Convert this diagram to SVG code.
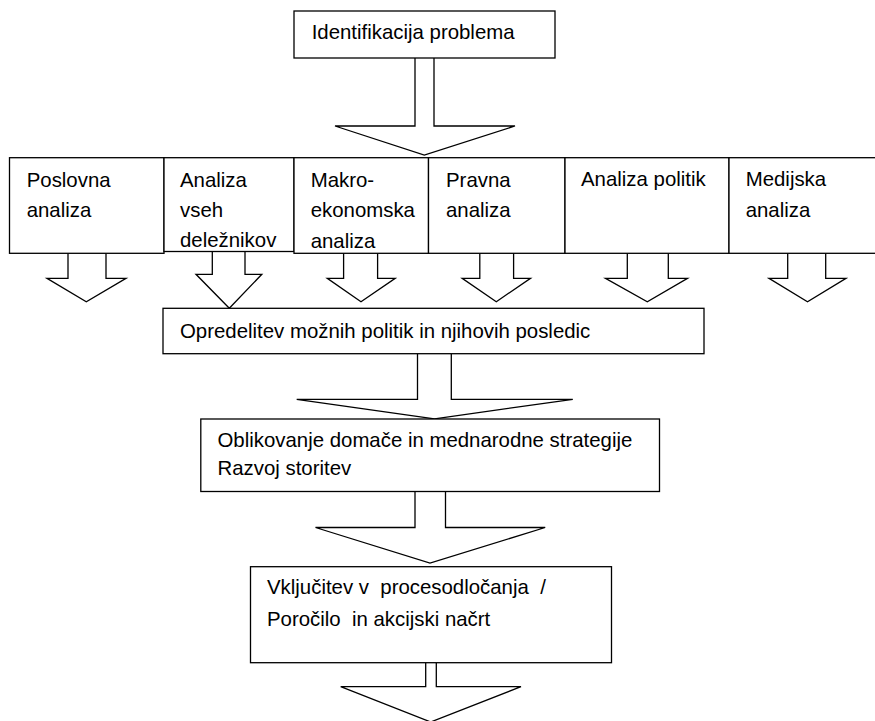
<svg xmlns="http://www.w3.org/2000/svg" width="875" height="721" viewBox="0 0 875 721">
<style>
.box{fill:#fff;stroke:#000;stroke-width:1.3}
.arr{fill:#fff;stroke:#000;stroke-width:1.3;stroke-linejoin:miter}
text{font-family:"Liberation Sans",Arial,sans-serif;font-size:20.4px;fill:#000;white-space:pre}
</style>
<rect width="875" height="721" fill="#fff"/>
<g id="connectors">
<path class="arr" d="M415,58 V126 H335 L424.3,155 L515,126 H434 V58"/>
<path class="arr" d="M68,253.3 V278.3 H47 L86.3,301.7 L126,278.3 H106 V253.3"/>
<path class="arr" d="M212.3,251.5 V274.3 H196 L229.3,308.3 L261.8,274.3 H245 V251.5"/>
<path class="arr" d="M343.6,253.3 V278.3 H327.3 L361,301.7 L395.2,278.3 H377.6 V253.3"/>
<path class="arr" d="M479.8,253.3 V278.3 H462.2 L496.3,301.7 L530.5,278.3 H513.6 V253.3"/>
<path class="arr" d="M627.3,253.3 V278.3 H605.5 L647.3,301.7 L687.5,278.3 H668.3 V253.3"/>
<path class="arr" d="M787.7,253.3 V278.3 H769 L807.5,301.7 L846,278.3 H825.7 V253.3"/>
<path class="arr" d="M417.5,353.7 V399.3 H296.7 L434.5,418.8 L572.8,399.3 H451.3 V353.7"/>
<path class="arr" d="M415,491.5 V527.5 H315.5 L430,563 L545.2,527.5 H445.5 V491.5"/>
<path class="arr" d="M425.7,662.7 V686.7 H340.7 L430.7,722 L521,686.7 H436.3 V662.7"/>
</g>
<g id="n-identifikacija">
<rect class="box" x="294" y="11" width="261" height="47"/>
<text x="311.7" y="39">Identifikacija problema</text>
</g>
<g id="n-poslovna">
<rect class="box" x="9.5" y="157.7" width="154.5" height="95.6"/>
<text x="26.7" y="186.5">Poslovna</text>
<text x="26.7" y="216.7">analiza</text>
</g>
<g id="n-delezniki">
<rect class="box" x="164" y="157.7" width="130" height="93.8"/>
<text x="180" y="186.5">Analiza</text>
<text x="180" y="216.5">vseh</text>
<text x="180" y="247.3">deležnikov</text>
</g>
<g id="n-makro">
<rect class="box" x="294" y="157.7" width="134.5" height="95.6"/>
<text x="310.7" y="186.5">Makro-</text>
<text x="310.7" y="216.7">ekonomska</text>
<text x="310.7" y="247.5">analiza</text>
</g>
<g id="n-pravna">
<rect class="box" x="428.5" y="157.7" width="136.5" height="95.6"/>
<text x="446" y="186.5">Pravna</text>
<text x="446" y="216.7">analiza</text>
</g>
<g id="n-politik">
<rect class="box" x="565" y="157.7" width="164" height="95.6"/>
<text x="581" y="186">Analiza politik</text>
</g>
<g id="n-medijska">
<rect class="box" x="729" y="157.7" width="151" height="95.6"/>
<text x="745.7" y="186">Medijska</text>
<text x="745.7" y="216.7">analiza</text>
</g>
<g id="n-opredelitev">
<rect class="box" x="163" y="308.3" width="541" height="45.4"/>
<text x="180" y="337.5">Opredelitev možnih politik in njihovih posledic</text>
</g>
<g id="n-oblikovanje">
<rect class="box" x="200.8" y="419" width="458.7" height="72.5"/>
<text x="217.5" y="446.7">Oblikovanje domače in mednarodne strategije</text>
<text x="217.5" y="475">Razvoj storitev</text>
</g>
<g id="n-vkljucitev">
<rect class="box" x="250.5" y="566.7" width="361" height="96"/>
<text x="267" y="593.5">Vključitev v  procesodločanja  /</text>
<text x="267" y="626">Poročilo  in akcijski načrt</text>
</g>
</svg>
